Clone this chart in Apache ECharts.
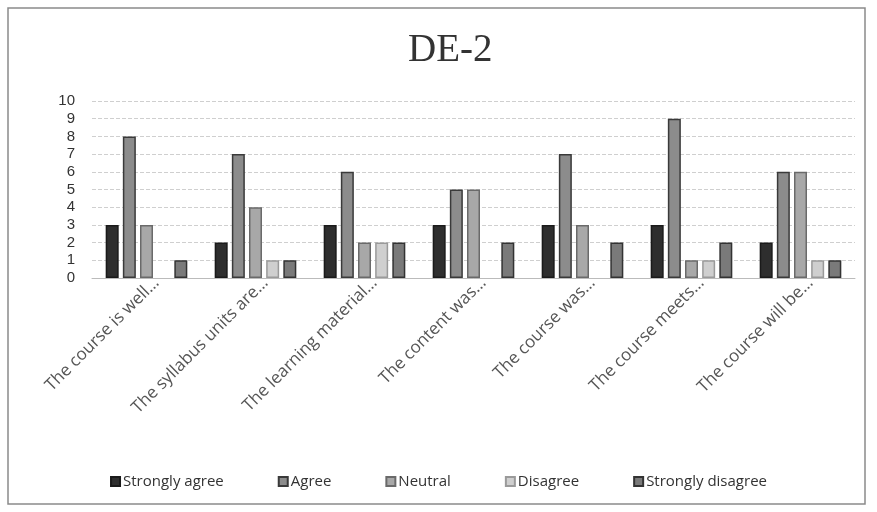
<!DOCTYPE html>
<html><head><meta charset="utf-8">
<script src="https://cdn.jsdelivr.net/npm/echarts@6/dist/echarts.min.js"></script>
<style>html,body{margin:0;padding:0;background:#fff}#c{width:877px;height:512px}</style>
</head><body><div id="c"></div>
<script>
const categories = ["The course is well…","The syllabus units are…","The learning material…","The content was…","The course was…","The course meets…","The course will be…"];
const seriesNames = ["Strongly agree","Agree","Neutral","Disagree","Strongly disagree"];
const stronglyAgree = [3,2,3,3,3,3,2];
const agree = [8,7,6,5,7,9,6];
const neutral = [3,4,2,5,3,1,6];
const disagree = [0,1,2,0,0,1,1];
const stronglyDisagree = [1,1,2,2,2,2,1];
const yTicks = [0,1,2,3,4,5,6,7,8,9,10];

const values = [stronglyAgree, agree, neutral, disagree, stronglyDisagree];
const fills = ["#2e2e2e","#8c8c8c","#a8a8a8","#cfcfcf","#7a7a7a"];
const borders = ["#1a1a1a","#3a3a3a","#6a6a6a","#9a9a9a","#333333"];

const chart = echarts.init(document.getElementById('c'));
chart.setOption({
  animation:false,
  backgroundColor:'#fff',
  graphic:[{type:'rect',shape:{x:8,y:8,width:857,height:496},style:{fill:'none',stroke:'#8a8a8a',lineWidth:1.5}}],
  title:{text:'DE-2',left:403,top:26,textStyle:{fontFamily:'Liberation Serif',fontWeight:'normal',fontSize:39,color:'#333'}},
  legend:{bottom:18,left:'center',itemWidth:9,itemHeight:9,itemGap:54,icon:'rect',
    textStyle:{fontFamily:'Open Sans',fontSize:15,color:'#333',padding:[0,0,0,-2]},
    data:seriesNames},
  grid:{left:92,right:22,top:101,bottom:234},
  xAxis:{type:'category',data:categories,
    axisLine:{lineStyle:{color:'#bbb'}},axisTick:{show:false},
    axisLabel:{rotate:45,interval:0,fontFamily:'Open Sans',fontSize:17,color:'#555',margin:12,padding:[0,-14,0,0]}},
  yAxis:{type:'value',min:0,max:10,interval:1,
    axisLabel:{fontFamily:'Liberation Sans',fontSize:15,color:'#333',margin:17},
    axisLine:{show:false},axisTick:{show:false},
    splitLine:{lineStyle:{color:'#cfcfcf',type:'dashed'}}},
  series: seriesNames.map((n,i)=>({
    name:n,type:'bar',data:values[i].map(v=>v===0?null:v),barWidth:13,barGap:'32%',
    itemStyle:{color:fills[i],borderColor:borders[i],borderWidth:1.5}
  }))
});
</script></body></html>
